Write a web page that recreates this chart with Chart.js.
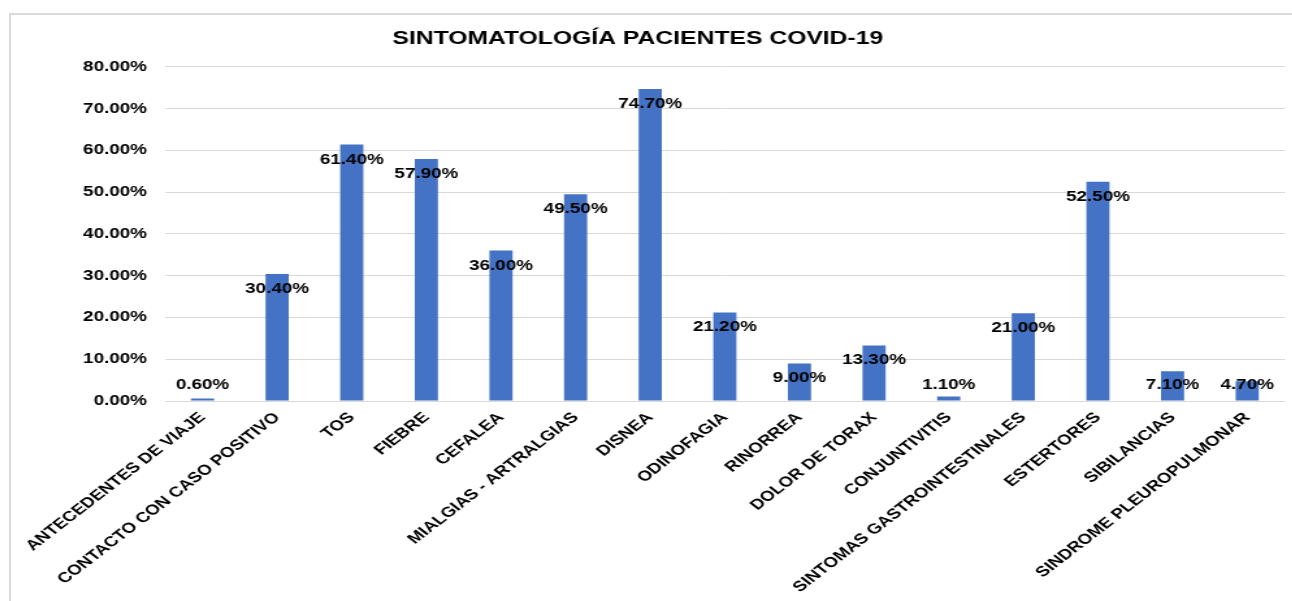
<!DOCTYPE html>
<html>
<head>
<meta charset="utf-8">
<title>Sintomatología pacientes COVID-19</title>
<script src="https://cdn.jsdelivr.net/npm/chart.js@4/dist/chart.umd.min.js"></script>
<style>
  html, body { margin: 0; padding: 0; background: #fff; overflow: hidden; }
  body { width: 1292px; height: 601px; position: relative; }
  #marco { position: absolute; left: 9px; top: 13px; width: 1400px; height: 700px; border: 2px solid #d9d9d9; }
  /* el grafico se dibuja mas angosto y se estira a lo ancho */
  #caja { position: absolute; left: -9px; top: 0; width: 995px; height: 601px; transform: scaleX(1.3); transform-origin: 0 0; }
</style>
</head>
<body>
<div id="marco"></div>
<div id="caja"><canvas id="myChart"></canvas></div>
<script>
let sintomas = ['ANTECEDENTES DE VIAJE', 'CONTACTO CON CASO POSITIVO', 'TOS', 'FIEBRE', 'CEFALEA',
  'MIALGIAS - ARTRALGIAS', 'DISNEA', 'ODINOFAGIA', 'RINORREA', 'DOLOR DE TORAX', 'CONJUNTIVITIS',
  'SINTOMAS GASTROINTESTINALES', 'ESTERTORES', 'SIBILANCIAS', 'SINDROME PLEUROPULMONAR']
let porcentajes = [0.6, 30.4, 61.4, 57.9, 36.0, 49.5, 74.7, 21.2, 9.0, 13.3, 1.1, 21.0, 52.5, 7.1, 4.7]
let ticksY = [0, 10, 20, 30, 40, 50, 60, 70, 80]

const fuente = "'Liberation Sans', Arial, sans-serif"

// etiquetas con el valor de cada barra, dentro del extremo superior
const etiquetas = {
  id: 'etiquetas',
  afterDatasetsDraw(chart) {
    const ctx = chart.ctx
    const base = chart.scales.y.getPixelForValue(0)
    ctx.save()
    ctx.font = 'bold 14.5px ' + fuente
    ctx.fillStyle = '#000'
    ctx.textAlign = 'center'
    ctx.textBaseline = 'middle'
    chart.getDatasetMeta(0).data.forEach((barra, i) => {
      let y = Math.min(barra.y + 15, base - 16)
      ctx.fillText(porcentajes[i].toFixed(2) + '%', barra.x, y)
    })
    ctx.restore()
  }
}

var ctx = document.getElementById('myChart').getContext('2d');
var grafico = new Chart(ctx, {
  type: 'bar',
  data: {
    labels: sintomas,
    datasets: [{
      label: 'Sintomatología',
      data: porcentajes,
      backgroundColor: '#4472C4',
      barPercentage: 0.31,
      categoryPercentage: 1
    }]
  },
  options: {
    responsive: true,
    maintainAspectRatio: false,
    animation: false,
    layout: { padding: 0 },
    plugins: {
      legend: { display: false },
      tooltip: { enabled: false },
      title: {
        display: true,
        text: 'SINTOMATOLOGÍA PACIENTES COVID-19',
        color: '#000',
        font: { family: fuente, size: 19, weight: 'bold', lineHeight: 1.2 },
        padding: { top: 27, bottom: 17 }
      }
    },
    scales: {
      x: {
        grid: { display: false, drawTicks: false },
        border: { display: false },
        ticks: {
          color: '#000',
          font: { family: fuente, size: 14.5, weight: 'bold' },
          minRotation: 45,
          maxRotation: 45,
          autoSkip: false,
          padding: 8
        },
        afterFit(scale) { scale.height = 200 }
      },
      y: {
        min: 0,
        max: 80,
        afterBuildTicks(scale) { scale.ticks = ticksY.map(v => ({ value: v })) },
        grid: { color: '#d9d9d9', lineWidth: 1, drawTicks: false },
        border: { display: false },
        ticks: {
          color: '#000',
          font: { family: fuente, size: 14.5, weight: 'bold' },
          padding: 14,
          callback: v => v.toFixed(2) + '%'
        },
        afterFit(scale) { scale.width = 134 }
      }
    }
  },
  plugins: [etiquetas]
});
</script>
</body>
</html>
